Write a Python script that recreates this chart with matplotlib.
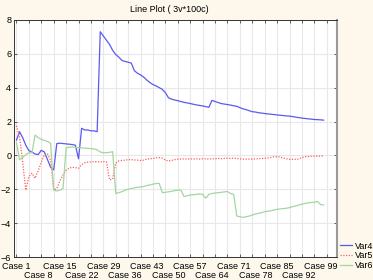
import numpy as np
import matplotlib
matplotlib.use('Agg')
import matplotlib.pyplot as plt

cases = np.arange(1, 101)

var4 = [0.9, 1.4, 1.05, 0.6, 0.28, 0.2, 0.08, 0.05, 0.3, 0.2,
        -0.25, -0.7, -0.85, 0.7, 0.72, 0.7, 0.68, 0.66, 0.64, 0.6,
        -0.2, 1.6, 1.5, 1.5, 1.45, 1.45, 1.4, 7.3, 7.05, 6.8,
        6.55, 6.2, 5.95, 5.8, 5.6, 5.55, 5.5, 5.45, 5.0, 4.85,
        4.75, 4.62, 4.45, 4.3, 4.18, 4.1, 4.0, 3.9, 3.7, 3.4,
        3.32, 3.27, 3.23, 3.18, 3.13, 3.1, 3.06, 3.02, 2.98, 2.95,
        2.92, 2.88, 2.84, 3.25, 3.18, 3.12, 3.06, 3.03, 3.0, 2.97,
        2.93, 2.9, 2.82, 2.75, 2.7, 2.64, 2.58, 2.56, 2.52, 2.5,
        2.47, 2.45, 2.43, 2.41, 2.39, 2.37, 2.35, 2.33, 2.32, 2.29,
        2.26, 2.23, 2.2, 2.18, 2.16, 2.14, 2.12, 2.11, 2.1, 2.08]

var5 = [1.75, 1.1, -0.4, -2.05, -1.25, -1.05, -1.35, -0.9, -0.4, 0.05,
        0.1, -0.3, -2.05, -1.95, -1.5, -1.15, -0.88, -0.75, -0.7, -0.72,
        -0.76, -0.55, -0.43, -0.4, -0.38, -0.37, -0.37, -0.38, -0.37, -0.38,
        -1.45, -1.4, -0.45, -0.32, -0.3, -0.28, -0.25, -0.25, -0.27, -0.28,
        -0.3, -0.28, -0.22, -0.2, -0.18, -0.14, -0.13, -0.16, -0.28, -0.33,
        -0.3, -0.25, -0.22, -0.22, -0.2, -0.22, -0.2, -0.22, -0.2, -0.22,
        -0.2, -0.2, -0.22, -0.2, -0.2, -0.18, -0.2, -0.18, -0.17, -0.18,
        -0.16, -0.18, -0.2, -0.22, -0.22, -0.22, -0.22, -0.2, -0.2, -0.18,
        -0.17, -0.15, -0.12, -0.08, -0.07, -0.1, -0.15, -0.2, -0.23, -0.23,
        -0.23, -0.22, -0.12, -0.08, -0.07, -0.05, -0.05, -0.04, -0.04, -0.03]

var6 = [0.75, -0.25, -0.12, 0.05, 0.15, 0.15, 1.2, 1.05, 0.95, 0.88,
        0.82, 0.72, -2.05, -2.1, -2.05, -1.95, 0.45, 0.48, 0.5, 0.48,
        0.45, 0.45, 0.43, 0.42, 0.4, 0.38, 0.33, 0.2, 0.16, 0.16,
        0.18, 0.22, -2.24, -2.2, -2.14, -2.05, -2.0, -1.95, -1.92, -1.88,
        -1.86, -1.84, -1.78, -1.74, -1.7, -1.66, -1.65, -2.2, -2.18, -2.15,
        -2.12, -2.08, -2.05, -2.05, -2.43, -2.38, -2.34, -2.32, -2.3, -2.28,
        -2.3, -2.53, -2.3, -2.25, -2.22, -2.2, -2.18, -2.15, -2.13, -2.25,
        -2.3, -3.58, -3.62, -3.66, -3.62, -3.58, -3.52, -3.46, -3.42, -3.38,
        -3.32, -3.3, -3.27, -3.22, -3.18, -3.16, -3.14, -3.12, -3.08, -3.03,
        -2.98, -2.93, -2.88, -2.84, -2.8, -2.78, -2.76, -2.72, -2.9, -2.93]

label_cases = np.arange(1, 100, 7)
grid_cases = np.arange(1, 102, 4)

plt.rcParams['font.family'] = ['Liberation Sans', 'DejaVu Sans']

fig = plt.figure(figsize=(3.73, 2.80), dpi=100, facecolor='#fdf8eb')
ax = fig.add_axes([0.0375, 0.082, 0.866, 0.847])
ax.set_facecolor('white')

ax.plot(cases, var4, color='#5a5af0', lw=0.9, label='Var4')
ax.plot(cases, var5, color='#ff5c5c', lw=0.9, ls=(0, (1, 1.2)), label='Var5')
ax.plot(cases, var6, color='#a3d6a0', lw=0.9, label='Var6')

ax.set_xlim(0.2, 104.3)
ax.set_ylim(-6, 8)
ax.set_yticks(np.arange(-6, 9, 2))

# grid / tick marks every 4 cases
ax.set_xticks(grid_cases)
ax.set_xticklabels([])
ax.tick_params(axis='both', which='major', direction='in', length=2.5,
               top=True, right=True, labelsize=6.5, width=0.6, color='#444444')
ax.tick_params(axis='y', pad=2)

# case labels every 7 cases, staggered on two rows
for i, c in enumerate(label_cases):
    off = -9 if i % 2 == 0 else -18
    ax.annotate('Case %d' % c, xy=(c, 0), xycoords=('data', 'axes fraction'),
                xytext=(0, off), textcoords='offset pixels',
                ha='center', va='center', fontsize=6.5, annotation_clip=False)

ax.grid(True, which='major', color='#e8e8e8', lw=0.8)
ax.set_axisbelow(True)
for s in ['left', 'bottom', 'top']:
    ax.spines[s].set_color('#333333')
    ax.spines[s].set_linewidth(0.7)
ax.spines['right'].set_color('#9a9a9a')
ax.spines['right'].set_linewidth(1.5)

fig.text(169.5 / 373, 1 - 10 / 280, 'Line Plot ( 3v*100c)', fontsize=6.5,
         ha='center', va='center')

fig.legend(loc='center left', bbox_to_anchor=(0.911, 0.086), frameon=False,
           fontsize=6.5, borderpad=0, borderaxespad=0, handlelength=1.35,
           handletextpad=0.35, labelspacing=0.1)

fig.savefig('out.png', dpi=100, facecolor=fig.get_facecolor())
